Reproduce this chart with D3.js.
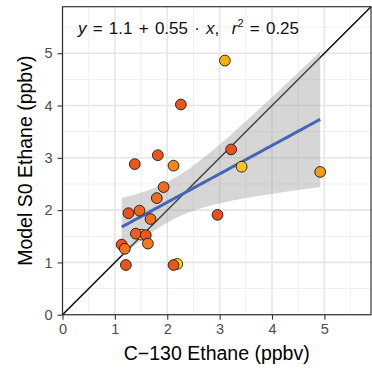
<!DOCTYPE html>
<html><head><meta charset="utf-8">
<script src="https://cdn.jsdelivr.net/npm/d3@7"></script>
<style>body{margin:0;background:#fff}svg{display:block}text{font-family:"Liberation Sans",Arial,sans-serif}</style>
</head><body><div id="c"></div>
<script>
const obsX = [3.22,1.82,1.38,2.12,3.42,4.92,1.93,1.80,1.26,1.47,1.68,2.96,1.51,1.40,1.59,1.63,1.13,1.19,1.21,2.19,2.12,3.10,2.26];
const modY = [3.16,3.05,2.88,2.85,2.83,2.73,2.44,2.23,1.94,1.99,1.83,1.91,1.53,1.55,1.52,1.36,1.34,1.26,0.95,0.97,0.95,4.86,4.02];
const pointColors = ["#e8501e","#ea561e","#ea561e","#f5861a","#ffc41a","#f59a15","#ee6a1e","#ef6c1e","#e8501e","#ee661e","#ef6e1e","#e8501e","#ffd000","#ec5e1e","#ea581e","#f07a1e","#e8541e","#f0761e","#e8541e","#ffe000","#e8561e","#f5b010","#e8541e"];
const xTicks = [0,1,2,3,4,5];
const yTicks = [0,1,2,3,4,5];
const axisMax = 5.89;
const tCrit = 2.0796; // qt(0.975, df=21)

const W=372,H=373;
const L=62.5,R=371,T=6.7,B=314.7;
const svg=d3.select("#c").append("svg").attr("width",W).attr("height",H);
const x=d3.scaleLinear().domain([0,axisMax]).range([L,R]);
const y=d3.scaleLinear().domain([0,axisMax]).range([B,T]);

// grid
const minor=d3.range(0.5,axisMax,1);
const g=svg.append("g");
g.selectAll(".vm").data(minor).join("line").attr("x1",d=>x(d)).attr("x2",d=>x(d)).attr("y1",T).attr("y2",B).attr("stroke","#f0f0f0").attr("stroke-width",1);
g.selectAll(".hm").data(minor).join("line").attr("y1",d=>y(d)).attr("y2",d=>y(d)).attr("x1",L).attr("x2",R).attr("stroke","#f0f0f0").attr("stroke-width",1);
g.selectAll(".vM").data(xTicks).join("line").attr("x1",d=>x(d)).attr("x2",d=>x(d)).attr("y1",T).attr("y2",B).attr("stroke","#e6e6e6").attr("stroke-width",1.6);
g.selectAll(".hM").data(yTicks).join("line").attr("y1",d=>y(d)).attr("y2",d=>y(d)).attr("x1",L).attr("x2",R).attr("stroke","#e6e6e6").attr("stroke-width",1.6);

// identity line
svg.append("line").attr("x1",x(0)).attr("y1",y(0)).attr("x2",x(axisMax)).attr("y2",y(axisMax)).attr("stroke","#111").attr("stroke-width",1.6);

// regression
const n=obsX.length, mx=d3.mean(obsX), my=d3.mean(modY);
let sxx=0,sxy=0; for(let i=0;i<n;i++){sxx+=(obsX[i]-mx)**2;sxy+=(obsX[i]-mx)*(modY[i]-my);}
const b1=sxy/sxx, b0=my-b1*mx;
let sse=0; for(let i=0;i<n;i++){sse+=(modY[i]-b0-b1*obsX[i])**2;}
const s=Math.sqrt(sse/(n-2));
const xs=d3.range(0,81).map(i=>d3.min(obsX)+(d3.max(obsX)-d3.min(obsX))*i/80);
const band=xs.map(xv=>{const f=b0+b1*xv, se=s*Math.sqrt(1/n+(xv-mx)**2/sxx);return {x:xv,lo:f-tCrit*se,hi:f+tCrit*se,f};});
svg.append("path").datum(band).attr("d",d3.area().x(d=>x(d.x)).y0(d=>y(d.lo)).y1(d=>y(d.hi))).attr("fill","#999").attr("fill-opacity",0.4);
svg.append("path").datum(band).attr("d",d3.line().x(d=>x(d.x)).y(d=>y(d.f))).attr("fill","none").attr("stroke","#4465b8").attr("stroke-width",3);

// points
svg.selectAll(".pt").data(obsX.map((v,i)=>({x:v,y:modY[i],c:pointColors[i]}))).join("circle")
  .attr("cx",d=>x(d.x)).attr("cy",d=>y(d.y)).attr("r",5.4).attr("fill",d=>d.c).attr("stroke","#1a1a1a").attr("stroke-width",0.9);

// border
svg.append("rect").attr("x",L).attr("y",T).attr("width",R-L).attr("height",B-T).attr("fill","none").attr("stroke","#333").attr("stroke-width",1.2);

// axes
const xa=svg.append("g").attr("transform",`translate(0,${B})`).call(d3.axisBottom(x).tickValues(xTicks).tickSize(5).tickPadding(4).tickFormat(d3.format("d")));
const ya=svg.append("g").attr("transform",`translate(${L},0)`).call(d3.axisLeft(y).tickValues(yTicks).tickSize(5).tickPadding(5).tickFormat(d3.format("d")));
[xa,ya].forEach(a=>{a.select(".domain").remove();a.selectAll("line").attr("stroke","#333").attr("stroke-width",1.1);a.selectAll("text").attr("fill","#4d4d4d").attr("font-size",14.5).attr("font-family","Liberation Sans, Arial, sans-serif");});

svg.append("text").attr("x",(L+R)/2).attr("y",360).attr("text-anchor","middle").attr("font-size",19.5).attr("fill","#000").text("C\u2212130 Ethane (ppbv)");
svg.append("text").attr("transform",`translate(32,${(T+B)/2}) rotate(-90)`).attr("text-anchor","middle").attr("font-size",19.5).attr("fill","#000").text("Model S0 Ethane (ppbv)");

// equation
const eq=svg.append("text").attr("x",78).attr("y",34).attr("font-size",17).attr("fill","#111").attr("word-spacing",1.5).style("white-space","pre");
eq.append("tspan").attr("font-style","italic").text("y");
eq.append("tspan").text(" = 1.1 + 0.55 \u00b7 ");
eq.append("tspan").attr("font-style","italic").text("x");
eq.append("tspan").text(",  ");
eq.append("tspan").attr("font-style","italic").text("r");
eq.append("tspan").attr("font-size",11).attr("dy",-7).text("2");
eq.append("tspan").attr("dy",7).text(" = 0.25");
</script></body></html>
